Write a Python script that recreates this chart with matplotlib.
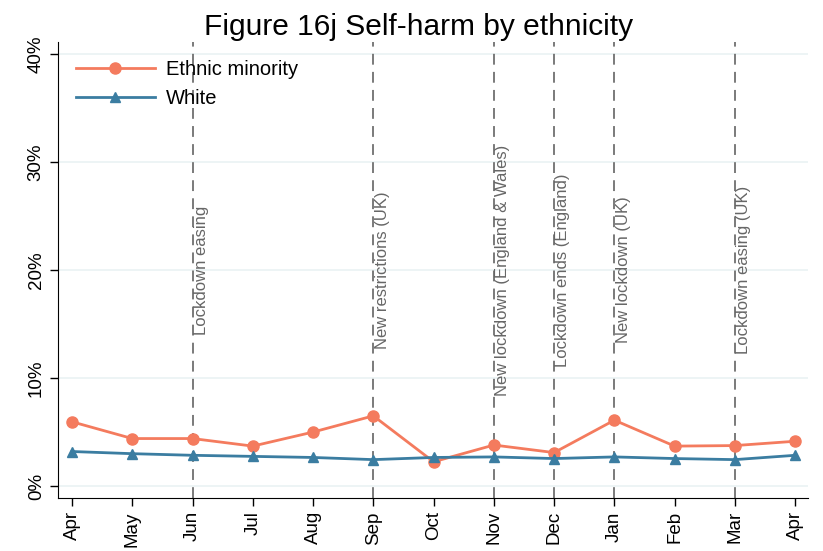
import matplotlib.pyplot as plt

plt.rcParams['font.family'] = ['Liberation Sans', 'DejaVu Sans']

months = ['Apr', 'May', 'Jun', 'Jul', 'Aug', 'Sep', 'Oct', 'Nov', 'Dec', 'Jan', 'Feb', 'Mar', 'Apr']
ethnic_minority = [5.95, 4.4, 4.4, 3.7, 5.0, 6.5, 2.25, 3.8, 3.1, 6.1, 3.7, 3.75, 4.15]
white = [3.2, 3.0, 2.85, 2.75, 2.65, 2.45, 2.65, 2.7, 2.55, 2.7, 2.55, 2.45, 2.85]

event_idx = [2, 5, 7, 8, 9, 11]
event_labels = ['Lockdown easing', 'New restrictions (UK)', 'New lockdown (England & Wales)',
                'Lockdown ends (England)', 'New lockdown (UK)', 'Lockdown easing (UK)']

yticks = [0, 10, 20, 30, 40]

fig = plt.figure(figsize=(8.23, 5.51), dpi=100)
ax = fig.add_axes([0.0705, 0.0962, 0.9115, 0.8278])

x = list(range(len(months)))

for v in yticks:
    ax.axhline(v, color='#eaf2f3', lw=1.2, zorder=0)

for i, lab in zip(event_idx, event_labels):
    ax.axvline(i, color='#707070', lw=1.3, ls=(0, (6, 4)), zorder=1)
    ax.text(i + 0.02, 20, lab, rotation=90, ha='left', va='center',
            fontsize=12, color='#666666', zorder=2)

ax.plot(x, ethnic_minority, color='#f47b5e', lw=2, marker='o', ms=8,
        label='Ethnic minority', zorder=3)
ax.plot(x, white, color='#3b7da1', lw=2, marker='^', ms=7,
        label='White', zorder=3)

ax.set_xlim(-0.232, 12.216)
ax.set_ylim(-1.1, 41.1)
ax.set_xticks(x)
ax.set_xticklabels(months, rotation=90, fontsize=13.5)
ax.set_yticks(yticks)
ax.set_yticklabels([f'{v}%' for v in yticks], rotation=90, va='center', fontsize=13.5)

for s in ['top', 'right']:
    ax.spines[s].set_visible(False)
ax.tick_params(length=6, width=1)

ax.set_title('Figure 16j Self-harm by ethnicity', fontsize=21.5, pad=5, x=0.48)

ax.legend(loc='upper left', frameon=False, fontsize=14.5, handlelength=3.9,
          handletextpad=0.55, labelspacing=0.5,
          bbox_to_anchor=(0.0, 1.0), borderaxespad=0.5)

fig.savefig('out.png', dpi=100)
